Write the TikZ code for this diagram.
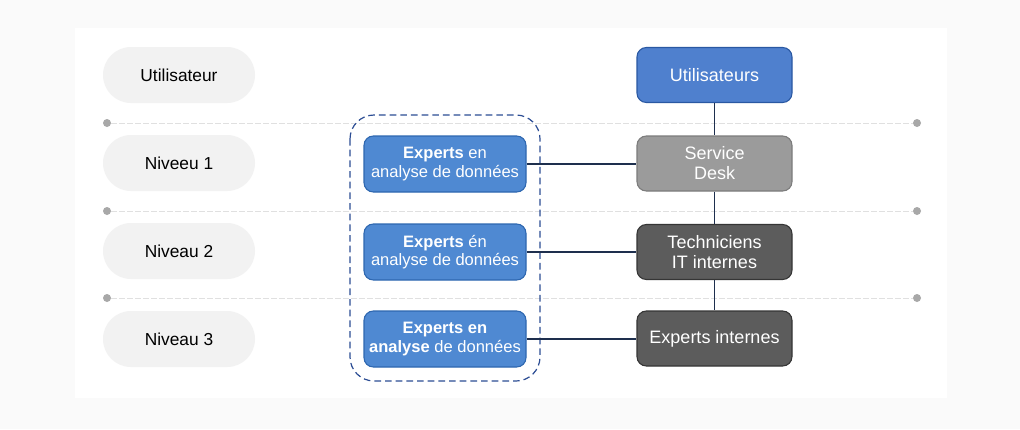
\documentclass[tikz,border=0pt]{standalone}
\usepackage{fontspec}
\setmainfont{Liberation Sans}
\usetikzlibrary{positioning}
\definecolor{bgout}{HTML}{FAFAFA}
\definecolor{pill}{HTML}{F2F2F2}
\definecolor{sep}{HTML}{E0E0E0}
\definecolor{dotc}{HTML}{A8A8A8}
\definecolor{blueF}{HTML}{4F89D2}
\definecolor{blueD}{HTML}{2E67B0}
\definecolor{userF}{HTML}{4F80CE}
\definecolor{userD}{HTML}{2A58A2}
\definecolor{sdF}{HTML}{9B9B9B}
\definecolor{sdD}{HTML}{7C7C7C}
\definecolor{darkF}{HTML}{5C5C5C}
\definecolor{darkD}{HTML}{353535}
\definecolor{lineC}{HTML}{1E2F4E}
\definecolor{grpC}{HTML}{2C4D94}
\tikzset{
  pillbox/.style={draw=none, fill=pill, rounded corners=28*0.75pt, minimum width=152*0.75pt, minimum height=56*0.75pt, font=\fontsize{13}{15}\selectfont, text=black},
  expbox/.style={draw=blueD, line width=0.8pt, fill=blueF, rounded corners=7pt, minimum width=162*0.75pt, minimum height=56*0.75pt, inner xsep=1pt, text=white, align=center, font=\fontsize{12.4}{14}\selectfont},
  rbox/.style={line width=0.8pt, rounded corners=7pt, minimum width=155*0.75pt, minimum height=55*0.75pt, text=white, align=center, font=\fontsize{13.5}{15}\selectfont},
  conn/.style={draw=lineC, line width=0.8pt},
  seprule/.style={draw=sep, line width=0.7pt, dash pattern=on 4pt off 2pt},
  sepdot/.style={circle, fill=dotc, inner sep=0pt, minimum size=6pt}
}
\begin{document}
\begin{tikzpicture}[x=0.75pt,y=-0.75pt]
\fill[bgout] (0,0) rectangle (1020,429);
\fill[white] (75,28) rectangle (947,398);
\useasboundingbox (0,0) rectangle (1020,429);
% separators
\foreach \yy/\nm in {123/a,211/b,298/c}{
  \node[sepdot] (sl\nm) at (107,\yy) {};
  \node[sepdot] (sr\nm) at (917,\yy) {};
  \draw[seprule] (sl\nm) -- (sr\nm);
}
% left pills
\node[pillbox] (p0) at (179,75) {Utilisateur};
\node[pillbox] (p1) at (179,163) {Niveeu 1};
\node[pillbox] (p2) at (179,251) {Niveau 2};
\node[pillbox] (p3) at (179,339) {Niveau 3};
% group
\draw[grpC, line width=0.9pt, dash pattern=on 5pt off 3pt, rounded corners=18pt] (350,115) rectangle (540,381);
% expert boxes
\node[expbox] (e1) at (445,164) {\textbf{Experts} en\\analyse de données};
\node[expbox] (e2) at (445,252) {\textbf{Experts} én\\analyse de données};
\node[expbox] (e3) at (445,339) {\textbf{Experts en}\\\textbf{analyse} de données};
% right column
\node[rbox, draw=userD, fill=userF] (u) at (714.5,75) {Utilisateurs};
\node[rbox, draw=sdD, fill=sdF] (sd) at (714.5,163.5) {Service\\Desk};
\node[rbox, draw=darkD, fill=darkF] (t) at (714.5,252) {Techniciens\\IT internes};
\node[rbox, draw=darkD, fill=darkF] (x) at (714.5,338.5) {Experts internes};
% connectors
\draw[conn] (u) -- (sd);
\draw[conn] (sd) -- (t);
\draw[conn] (t) -- (x);
\draw[conn] (e1.east) -- (e1.east -| sd.west);
\draw[conn] (e2.east) -- (e2.east -| t.west);
\draw[conn] (e3.east) -- (e3.east -| x.west);
\end{tikzpicture}
\end{document}
